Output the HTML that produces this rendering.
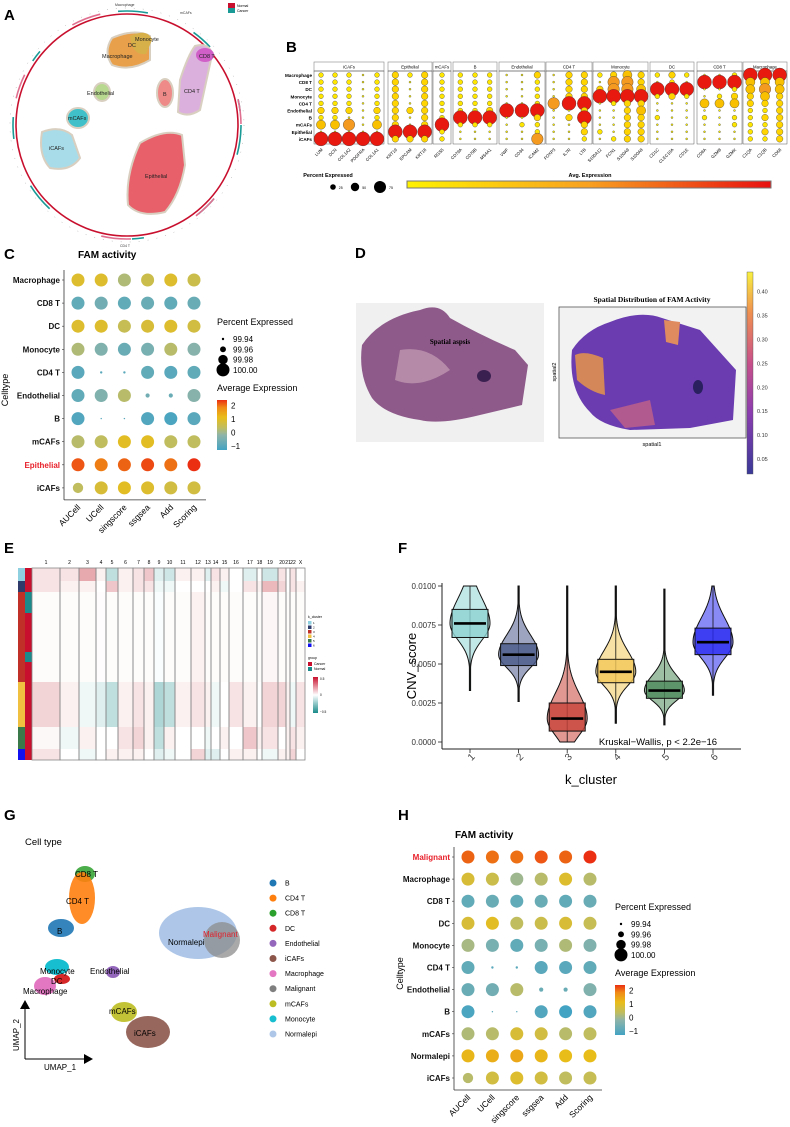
<!DOCTYPE html>
<html><head><meta charset="utf-8"><style>
html,body{margin:0;padding:0;background:#fff;}
svg{display:block;font-family:"Liberation Sans",Arial,sans-serif;}
</style></head><body>
<svg id="fig" width="790" height="1127" viewBox="0 0 790 1127" xmlns="http://www.w3.org/2000/svg">
<rect width="790" height="1127" fill="#fff"/>
<g font-weight="bold" font-size="15">
<text x="4" y="20">A</text>
<text x="286" y="52">B</text>
<text x="4" y="259">C</text>
<text x="355" y="258">D</text>
<text x="4" y="553">E</text>
<text x="398" y="553">F</text>
<text x="4" y="820">G</text>
<text x="398" y="820">H</text>
</g>

<g id="panelA">
<circle cx="127" cy="125" r="111" fill="none" stroke="#c8102e" stroke-width="1.6"/>
<circle cx="127" cy="125" r="114" fill="none" stroke="#1a9a96" stroke-width="1.6" stroke-dasharray="30 50 22 60 12 90"/>
<circle cx="127" cy="125" r="114" fill="none" stroke="#e07090" stroke-width="1.6" stroke-dasharray="0 80 25 70 30 100"/>
<circle cx="127" cy="125" r="117" fill="none" stroke="#999" stroke-width="0.5" stroke-dasharray="1 8"/>
<rect x="228" y="3" width="7" height="5" fill="#c8102e"/>
<rect x="228" y="8" width="7" height="5" fill="#1a9a96"/>
<text x="237" y="7" font-size="3.5">Normal</text>
<text x="237" y="12" font-size="3.5">Cancer</text>
<g font-size="3.5" fill="#333">
<text x="115" y="6">Macrophage</text>
<text x="180" y="14">mCAFs</text>
<text x="120" y="247">CD4 T</text>
</g>
<path d="M112,38 Q135,28 150,36 L150,60 Q130,72 112,65 Q103,52 112,38Z" fill="#e9a04a" stroke="#d9cfc0" stroke-width="2"/>
<path d="M130,36 Q148,28 152,40 L146,54 Q132,56 130,36Z" fill="#d8b04a"/>
<path d="M195,46 Q210,42 212,55 L200,110 Q188,118 178,112 L180,80 Q188,55 195,46Z" fill="#dcb0dc" stroke="#d9cfc0" stroke-width="2"/>
<ellipse cx="205" cy="55" rx="9" ry="7" fill="#d060c8"/>
<ellipse cx="165" cy="93" rx="8" ry="14" fill="#ee8a88" stroke="#d9cfc0" stroke-width="2"/>
<ellipse cx="102" cy="92" rx="8" ry="9" fill="#b8d890" stroke="#d9cfc0" stroke-width="2"/>
<ellipse cx="78" cy="118" rx="11" ry="10" fill="#40c0c8" stroke="#d9cfc0" stroke-width="2"/>
<path d="M42,132 Q60,125 72,135 L80,158 Q70,172 50,168 Q38,155 42,132Z" fill="#a8dce8" stroke="#d9cfc0" stroke-width="2"/>
<path d="M140,143 Q165,128 182,135 L185,165 Q180,195 165,212 Q140,218 128,205 Q125,175 140,143Z" fill="#e8606a" stroke="#d9cfc0" stroke-width="2"/>
<g font-size="5.5" fill="#222">
<text x="102" y="58">Macrophage</text>
<text x="128" y="47">DC</text>
<text x="135" y="41">Monocyte</text>
<text x="199" y="58">CD8 T</text>
<text x="184" y="93">CD4 T</text>
<text x="163" y="96">B</text>
<text x="87" y="95">Endothelial</text>
<text x="68" y="120">mCAFs</text>
<text x="49" y="150">iCAFs</text>
<text x="145" y="178">Epithelial</text>
</g>
</g>

<g id="panelB"></g>
<g id="panelC"></g>
<g id="panelD">
<defs>
<linearGradient id="plasma" x1="0" y1="1" x2="0" y2="0">
<stop offset="0" stop-color="#3a3a98"/><stop offset="0.3" stop-color="#8a3cb0"/><stop offset="0.55" stop-color="#c8508a"/><stop offset="0.8" stop-color="#f09050"/><stop offset="1" stop-color="#f8f040"/>
</linearGradient>
<linearGradient id="bgrad" x1="0" y1="0" x2="1" y2="0">
<stop offset="0" stop-color="#fff200"/><stop offset="0.5" stop-color="#f8a020"/><stop offset="1" stop-color="#e81010"/>
</linearGradient>
<linearGradient id="avggrad" x1="0" y1="1" x2="0" y2="0">
<stop offset="0" stop-color="#43a3c3"/><stop offset="0.3" stop-color="#8fb4a8"/><stop offset="0.45" stop-color="#c0bd5e"/><stop offset="0.65" stop-color="#e8bd1a"/><stop offset="0.85" stop-color="#f08a16"/><stop offset="1" stop-color="#ea2f12"/>
</linearGradient>
<linearGradient id="cnvgrad" x1="0" y1="1" x2="0" y2="0">
<stop offset="0" stop-color="#1a8a8a"/><stop offset="0.5" stop-color="#ffffff"/><stop offset="1" stop-color="#c8102e"/>
</linearGradient>
</defs>
<rect x="356" y="303" width="188" height="139" fill="#f0f0f0"/>
<path d="M362,345 Q380,318 420,310 Q440,302 450,318 Q480,335 515,350 L528,365 L522,405 L480,415 Q440,425 420,420 Q385,415 372,398 Q358,375 362,345Z" fill="#8e5a8a"/>
<path d="M400,350 Q430,345 450,370 Q420,390 395,380Z" fill="#b58aa8"/>
<ellipse cx="484" cy="376" rx="7" ry="6" fill="#3a2050"/>
<text x="450" y="344" font-family="Liberation Serif,serif" font-weight="bold" font-size="7" text-anchor="middle">Spatial aspsis</text>
<rect x="559" y="307" width="187" height="131" fill="#f2f2f2" stroke="#555" stroke-width="0.8"/>
<path d="M572,350 Q585,330 610,322 Q640,310 662,318 L700,330 L736,370 L733,420 L690,428 L630,430 Q600,425 590,412 Q568,390 572,350Z" fill="#6a3cb0"/>
<path d="M575,355 Q585,350 603,358 L605,395 Q590,392 577,380Z" fill="#e09050" opacity="0.9"/>
<path d="M664,320 L680,322 L678,345 L666,342Z" fill="#e08a60"/>
<path d="M610,410 L650,400 L655,425 L625,428Z" fill="#b05a90"/>
<ellipse cx="698" cy="387" rx="5" ry="7" fill="#2a2060"/>
<text x="652" y="302" font-family="Liberation Serif,serif" font-weight="bold" font-size="7.5" text-anchor="middle">Spatial Distribution of FAM Activity</text>
<text x="652" y="446" font-size="5.5" text-anchor="middle">spatial1</text>
<text x="556" y="372" font-size="5.5" text-anchor="middle" transform="rotate(-90 556 372)">spatial2</text>
<rect x="747" y="272" width="6" height="202" fill="url(#plasma)" stroke="#555" stroke-width="0.4"/>
<g id="dcbar" font-size="5.5" fill="#333"></g>
</g>

<g id="panelE"></g>
<g id="panelF"></g>

<g id="panelG">
<text x="25" y="845" font-size="9.5">Cell type</text>
<ellipse cx="85" cy="874" rx="10" ry="8" fill="#2ca02c" opacity="0.85"/>
<ellipse cx="82" cy="898" rx="13" ry="26" fill="#ff7f0e" opacity="0.9"/>
<ellipse cx="61" cy="928" rx="13" ry="9" fill="#1f77b4" opacity="0.9"/>
<ellipse cx="198" cy="933" rx="39" ry="26" fill="#aec7e8"/>
<ellipse cx="222" cy="940" rx="18" ry="18" fill="#8c8c8c" opacity="0.75"/>
<ellipse cx="57" cy="967" rx="12" ry="8" fill="#17becf"/>
<ellipse cx="62" cy="979" rx="8" ry="5" fill="#d62728"/>
<ellipse cx="45" cy="986" rx="11" ry="9" fill="#e377c2"/>
<ellipse cx="113" cy="972" rx="7" ry="6" fill="#9467bd"/>
<ellipse cx="124" cy="1012" rx="13" ry="10" fill="#bcbd22" opacity="0.9"/>
<ellipse cx="148" cy="1032" rx="22" ry="16" fill="#8c564b" opacity="0.9"/>
<g font-size="8">
<text x="75" y="877">CD8 T</text>
<text x="66" y="904">CD4 T</text>
<text x="57" y="934">B</text>
<text x="168" y="945">Normalepi</text>
<text x="203" y="937" fill="#e0202a">Malignant</text>
<text x="40" y="974">Monocyte</text>
<text x="51" y="984">DC</text>
<text x="23" y="994">Macrophage</text>
<text x="90" y="974">Endothelial</text>
<text x="109" y="1014">mCAFs</text>
<text x="134" y="1036">iCAFs</text>
</g>
<line x1="25" y1="1059" x2="25" y2="1008" stroke="#000" stroke-width="1"/>
<line x1="25" y1="1059" x2="86" y2="1059" stroke="#000" stroke-width="1"/>
<polygon points="25,1000 20,1009 30,1009" fill="#000"/>
<polygon points="93,1059 84,1054 84,1064" fill="#000"/>
<text x="44" y="1070" font-size="8">UMAP_1</text>
<text x="19" y="1035" font-size="8" text-anchor="middle" transform="rotate(-90 19 1035)">UMAP_2</text>
<g id="glegend" font-size="7"></g>
</g>

<g id="panelH"></g>
</svg>
<script>
const NS="http://www.w3.org/2000/svg";
function mk(parent,tag,attrs,text){const e=document.createElementNS(NS,tag);for(const k in attrs)e.setAttribute(k,attrs[k]);if(text!==undefined)e.textContent=text;parent.appendChild(e);return e;}

const bGroups=["iCAFs","Epithelial","mCAFs","B","Endothelial","CD4 T","Monocyte","DC","CD8 T","Macrophage"];
const bGenes=[["LUM","DCN","COL1A2","PDGFRA","COL1A1"],["KRT19","EPCAM","KRT18"],["RGS5"],["CD79A","CD79B","MS4A1"],["VWF","CD34","ICAM2"],["FOXP3","IL7R","LTB"],["S100A12","FCN1","S100A9","S100A8"],["CD1C","CLEC10A","CD1E"],["CD8A","GZMB","GZMK"],["C1QA","C1QB","CD68"]];
const bRows=["Macrophage","CD8 T","DC","Monocyte","CD4 T","Endothelial","B","mCAFs","Epithelial","iCAFs"];
const bLevels=[
"11101|212|1|111|002|022|1232|121|001|555",
"11101|202|1|111|001|022|0442|010|555|333",
"11101|202|1|111|001|022|2443|555|001|343",
"11101|202|1|111|001|022|5555|121|012|232",
"11101|202|1|111|001|455|0122|000|333|222",
"22202|222|1|112|555|002|0023|000|000|112",
"11001|202|1|555|002|025|0022|100|101|122",
"33403|202|5|111|011|002|0022|000|001|112",
"00000|555|1|000|001|002|1022|000|000|122",
"55555|222|1|000|004|001|0122|000|000|112"];
const bGroupX=[[314,384],[388,432],[433,451],[453,497],[499,545],[546,592],[593,648],[650,694],[697,742],[743,787]];
(function(){
 const g=document.getElementById('panelB');
 const radius=[1,2.4,3.3,4.6,5.8,7], fills=["#fff200","#ffe600","#ffd400","#f8c000","#f59a20","#e81a10"];
 const rowY=i=>75+i*7.1;
 bRows.forEach((r,i)=>{const t=mk(g,'text',{x:312,y:rowY(i)+2,'font-size':4.6,'font-weight':'bold','text-anchor':'end'},r);
  });
 bGroups.forEach((gr,gi)=>{
  const [x0,x1]=bGroupX[gi];
  const box=mk(g,'rect',{x:x0,y:62,width:x1-x0,height:9,fill:'#fff',stroke:'#888','stroke-width':0.6});
  
  const t=mk(g,'text',{x:(x0+x1)/2,y:68.5,'font-size':4.3,'text-anchor':'middle'},gr);
  
  const fr=mk(g,'rect',{x:x0,y:71,width:x1-x0,height:73,fill:'none',stroke:'#333','stroke-width':0.4});
  
  const n=bGenes[gi].length, step=(x1-x0)/n;
  bGenes[gi].forEach((gene,k)=>{
   const x=x0+step*(k+0.5);
   const gl=mk(g,'text',{x:x+2,y:150,'font-size':4.3,'text-anchor':'end',transform:`rotate(-45 ${x+2} 150)`},gene);
   
   bRows.forEach((r,i)=>{
    const lv=+bLevels[i].split('|')[gi][k];
    const c=mk(g,'circle',{cx:x,cy:rowY(i),r:radius[lv],fill:fills[lv],stroke:'#333','stroke-width':0.35});
    
   });
  });
 });
 const t1=mk(g,'text',{x:328,y:177,'font-size':5.5,'font-weight':'bold','text-anchor':'middle'},'Percent Expressed');
 
 [[333,2.8,'25'],[355,4.2,'50'],[380,6,'75']].forEach(([x,r,l])=>{
  const c=mk(g,'circle',{cx:x,cy:187,r:r,fill:'#000'});
  const t=mk(g,'text',{x:x+r+3,y:189,'font-size':3.5},l);
 });
 const t2=mk(g,'text',{x:590,y:177,'font-size':5.5,'font-weight':'bold','text-anchor':'middle'},'Avg. Expression');
 
 const bar=mk(g,'rect',{x:407,y:181,width:364,height:7,fill:'url(#bgrad)',stroke:'#777','stroke-width':1});
 
})();

const methods=["AUCell","UCell","singscore","ssgsea","Add","Scoring"];
const cRows=["Macrophage","CD8 T","DC","Monocyte","CD4 T","Endothelial","B","mCAFs","Epithelial","iCAFs"];
const cExpr=[[0.8,0.8,0.1,0.5,0.8,0.5],[-0.9,-0.7,-0.9,-0.8,-0.9,-0.8],[0.8,0.8,0.4,0.7,0.8,0.6],[0.1,-0.5,-0.8,-0.6,0.2,-0.4],[-1,-1,-1,-0.9,-1,-0.9],[-0.9,-0.5,0.2,-0.7,-0.8,-0.4],[-1.1,-1,-1,-1.1,-1.2,-1],[0.2,0.3,0.9,0.9,0.3,0.3],[2.1,1.8,2.0,2.2,1.9,2.4],[0.3,0.7,0.9,0.8,0.6,0.6]];
const cPct=[[100,100,100,100,100,100],[100,100,100,100,100,100],[100,100,100,100,100,100],[100,100,100,100,100,100],[100,99.94,99.94,100,100,100],[100,100,100,99.95,99.95,100],[100,99.93,99.93,100,100,100],[100,100,100,100,100,100],[100,100,100,100,100,100],[99.985,100,100,100,100,100]];
const hRows=["Malignant","Macrophage","CD8 T","DC","Monocyte","CD4 T","Endothelial","B","mCAFs","Normalepi","iCAFs"];
const hExpr=[[2.0,1.9,1.9,2.1,2.0,2.4],[0.7,0.5,-0.1,0.2,0.8,0.2],[-0.9,-0.8,-0.9,-0.8,-0.9,-0.8],[0.7,0.9,0.3,0.5,0.7,0.4],[0.0,-0.6,-0.9,-0.6,0.1,-0.5],[-0.9,-1,-1,-1,-1,-0.9],[-0.8,-0.7,0.2,-0.8,-0.8,-0.5],[-1.2,-1,-1,-1.1,-1.3,-1.1],[0.1,0.2,0.7,0.6,0.2,0.3],[1.1,1.2,1.3,1.1,1.0,1.0],[0.2,0.6,0.8,0.6,0.3,0.4]];
const hPct=[[100,100,100,100,100,100],[100,100,100,100,100,100],[100,100,100,100,100,100],[100,100,100,100,100,100],[100,100,100,100,100,100],[100,99.94,99.94,100,100,100],[100,100,100,99.95,99.95,100],[100,99.93,99.93,100,100,100],[100,100,100,100,100,100],[100,100,100,100,100,100],[99.985,100,100,100,100,100]];
const sizeTicks=["99.94","99.96","99.98","100.00"];
const colorTicks=[2,1,0,-1];

const cstops=[[-1.3,[67,163,195]],[-0.3,[143,180,168]],[0.3,[192,189,94]],[1,[232,189,26]],[1.7,[240,138,22]],[2.4,[234,47,18]]];
function colorOf(v){v=Math.max(-1.3,Math.min(2.4,v));for(let i=0;i<cstops.length-1;i++){const[a,ca]=cstops[i],[b,cb]=cstops[i+1];if(v<=b){const t=(v-a)/(b-a);return'rgb('+ca.map((c,j)=>Math.round(c+(cb[j]-c)*t)).join(',')+')';}}return'rgb(234,47,18)';}
function sizeOf(p){if(p<99.935)return 0.7;const t=(p-99.94)/0.06;return Math.max(1.2,1.2+t*5.3);}

function dotplot(gid,rows,expr,pct,o){
 const g=document.getElementById(gid);
 const yOf=i=>o.y0+i*o.dy, xOf=j=>o.x0+j*o.dx;
 const title=mk(g,'text',{x:o.titleX,y:o.titleY,'font-size':10,'font-weight':'bold'},'FAM activity');
 
 const yb=yOf(rows.length-1)+12, xl=o.axisX, xr=xOf(methods.length-1)+12;
 const ax1=mk(g,'line',{x1:xl,y1:yOf(0)-10,x2:xl,y2:yb,stroke:'#333','stroke-width':0.8});
 
 const ax2=mk(g,'line',{x1:xl,y1:yb,x2:xr,y2:yb,stroke:'#333','stroke-width':0.8});
 
 rows.forEach((r,i)=>{
  const t=mk(g,'text',{x:xl-4,y:yOf(i)+3,'font-size':8,'font-weight':'bold','text-anchor':'end',fill:(r===o.hl?'#e8202a':'#111')},r);
  
  const tk=mk(g,'line',{x1:xl-2,y1:yOf(i),x2:xl,y2:yOf(i),stroke:'#333','stroke-width':0.6});
  
  methods.forEach((m,j)=>{
   const c=mk(g,'circle',{cx:xOf(j),cy:yOf(i),r:sizeOf(pct[i][j]),fill:colorOf(expr[i][j])});
   
  });
 });
 methods.forEach((m,j)=>{
  const x=xOf(j)+3,y=yb+8;
  const t=mk(g,'text',{x:x,y:y,'font-size':8.5,'text-anchor':'end',transform:`rotate(-45 ${x} ${y})`},m);
  
 });
 const yt=mk(g,'text',{x:o.ylabX,y:(yOf(0)+yb)/2,'font-size':9,'text-anchor':'middle',transform:`rotate(-90 ${o.ylabX} ${(yOf(0)+yb)/2})`},'Celltype');
 
 const lx=o.legX, ly=o.legY;
 const pt=mk(g,'text',{x:lx,y:ly,'font-size':9},'Percent Expressed');
 
 sizeTicks.forEach((s,k)=>{
  const c=mk(g,'circle',{cx:lx+6,cy:ly+14+k*10.3,r:sizeOf(+s),fill:'#000'});
  
  const t=mk(g,'text',{x:lx+16,y:ly+17+k*10.3,'font-size':8},s);
  
 });
 const at=mk(g,'text',{x:lx,y:ly+66,'font-size':9},'Average Expression');
 
 const cb=mk(g,'rect',{x:lx,y:ly+75,width:10,height:50,fill:'url(#avggrad)'});
 
 const cy=v=>ly+125-(v+1.3)/3.7*50;
 colorTicks.forEach(v=>{
  const t=mk(g,'text',{x:lx+14,y:cy(v)+3,'font-size':8},v<0?'\u2212'+Math.abs(v):String(v));
  
 });
}
dotplot('panelC',cRows,cExpr,cPct,{x0:78,dx:23.2,y0:280,dy:23.1,axisX:64,titleX:78,titleY:258,ylabX:8,legX:217,legY:325,hl:'Epithelial'});
dotplot('panelH',hRows,hExpr,hPct,{x0:468,dx:24.4,y0:857,dy:22.1,axisX:454,titleX:455,titleY:838,ylabX:403,legX:615,legY:910,hl:'Malignant'});

const dTicks=[0.05,0.10,0.15,0.20,0.25,0.30,0.35,0.40];
(function(){const g=document.getElementById('dcbar');dTicks.forEach(v=>{const y=459-(v-0.05)/0.05*23.9;
 const t=mk(g,'text',{x:757,y:y+2},v.toFixed(2));});})();

const chroms=["1","2","3","4","5","6","7","8","9","10","11","12","13","14","15","16","17","18","19","20","21","22","X"];
const chromBounds=[32,60,79,96,106,118,133,144,154,164,175,191,205,211,220,229,243,257,262,278,286,290,296,305];
const kClusters=["1","2","3","4","5","6"];
const kColors=["#8ecfe0","#2e3a6a","#c03028","#f0c040","#3a7a4a","#1010f0"];
const kBands=[[568,581],[581,592],[592,682],[682,727],[727,749],[749,760]];
const groupBands=[[568,592,"Cancer"],[592,613,"Normal"],[613,652,"Cancer"],[652,662,"Normal"],[662,760,"Cancer"]];
const cnv=[
[0.2,0.2,0.6,0.1,-0.4,0.1,0.2,0.4,-0.2,-0.3,0.1,0.1,-0.2,0.2,0.1,0,-0.2,0,-0.3,0.2,0,0.2,0],
[0.2,0.1,0.1,0,0.4,0.1,0.2,0.2,-0.1,-0.1,0,0,0,0.1,-0.1,0,0.2,0.1,0.5,0.3,0,0.2,0.1],
[0.03,0.03,0.03,0.02,0.03,0.03,0.03,0.03,-0.03,0.03,0.03,0.1,0.03,0.03,0.03,0.03,0.03,0.03,0.06,0.03,0.03,0.03,0.03],
[0.3,0.1,-0.1,-0.2,-0.4,0.1,0.2,0.1,-0.5,-0.4,0.1,0.2,0.1,-0.1,0,0.2,0.1,0,0.3,0.3,0.1,-0.1,0.2],
[0.05,-0.1,0.1,0,0,0.2,0.3,0.1,-0.4,0.1,0,0,-0.1,0,0.1,0,0.4,0.1,0.2,0,0.1,0.2,0.1],
[0.2,0,-0.1,0,0.1,0.1,0.1,0,-0.2,-0.1,0,0.3,-0.2,-0.2,0,0.1,0.1,0,-0.1,0.1,0.1,0.3,0]];
function cnvColor(v){const t=Math.max(-1,Math.min(1,v/1.4));if(t>=0){return`rgb(${255-Math.round(55*t)},${255-Math.round(200*t)},${255-Math.round(190*t)})`;}const s=-t;return`rgb(${255-Math.round(225*s)},${255-Math.round(115*s)},${255-Math.round(115*s)})`;}
(function(){
 const g=document.getElementById('panelE');
 kBands.forEach(([y0,y1],i)=>{
  const r=mk(g,'rect',{x:18,y:y0,width:7,height:y1-y0,fill:kColors[i]});
  chroms.forEach((c,j)=>{
   const x0=chromBounds[j],x1=chromBounds[j+1];
   const cell=mk(g,'rect',{x:x0,y:y0,width:x1-x0,height:y1-y0,fill:cnvColor(cnv[i][j])});
   
  });
 });
 groupBands.forEach(([y0,y1,gname])=>{const r=mk(g,'rect',{x:25,y:y0,width:7,height:y1-y0,fill:gname==='Cancer'?'#c8102e':'#1a8a8a'});});
 chroms.forEach((c,j)=>{
  const x0=chromBounds[j],x1=chromBounds[j+1];
  const f=mk(g,'rect',{x:x0,y:568,width:x1-x0,height:192,fill:'none',stroke:'#888','stroke-width':0.8});
  const t=mk(g,'text',{x:(x0+x1)/2,y:564,'font-size':5,'text-anchor':'middle'},c);
 });
 const t=mk(g,'text',{x:308,y:618,'font-size':3.5},'k_cluster');
 kClusters.forEach((k,i)=>{const r=mk(g,'rect',{x:308,y:621+i*4.5,width:3.5,height:3.5,fill:kColors[i]});
  const l=mk(g,'text',{x:313,y:624+i*4.5,'font-size':3},k);});
 const gt=mk(g,'text',{x:308,y:659,'font-size':3.5},'group');
 [['Cancer','#c8102e'],['Normal','#1a8a8a']].forEach(([n,c],i)=>{const r=mk(g,'rect',{x:308,y:662+i*5,width:4,height:4,fill:c});
  const l=mk(g,'text',{x:314,y:665+i*5,'font-size':3.5},n);});
 const cb=mk(g,'rect',{x:313,y:677,width:5,height:36,fill:'url(#cnvgrad)'});
 [['0.5',680],['0',696],['\u22120.5',713]].forEach(([s,y])=>{const l=mk(g,'text',{x:320,y:y,'font-size':3.2},s);});
})();

const fClusters=["1","2","3","4","5","6"];
const fColors=["#8fd3d3","#4a5a8a","#c8433a","#f2c85a","#4e8a5a","#2a2af0"];
const fQ1=[0.0067,0.0049,0.0007,0.0038,0.0028,0.0056];
const fMed=[0.0076,0.0056,0.0015,0.0045,0.0033,0.0064];
const fQ3=[0.0085,0.0063,0.0025,0.0053,0.0039,0.0073];
const fMin=[0.0033,0.0026,0.0000,0.0012,0.0011,0.0030];
const fMax=[0.0100,0.0100,0.0100,0.0100,0.0098,0.0100];
const fTicks=[0,0.0025,0.005,0.0075,0.01];
(function(){
 const g=document.getElementById('panelF');
 const yS=v=>742-v/0.01*156, xS=i=>470+i*48.6;
 const ax=mk(g,'line',{x1:442,y1:583,x2:442,y2:749,stroke:'#222','stroke-width':1});
 const bx=mk(g,'line',{x1:442,y1:749,x2:741,y2:749,stroke:'#222','stroke-width':1});
 fTicks.forEach(v=>{const y=yS(v);const tk=mk(g,'line',{x1:438,y1:y,x2:442,y2:y,stroke:'#222','stroke-width':0.8});
  const t=mk(g,'text',{x:436,y:y+3,'font-size':8,'text-anchor':'end',fill:'#333'},v.toFixed(4));});
 fClusters.forEach((c,i)=>{
  const x=xS(i), sd=(fQ3[i]-fQ1[i])/1.35;
  const n=60, pts=[], W=20;
  for(let k=0;k<=n;k++){const v=fMin[i]+(fMax[i]-fMin[i])*k/n;const z=(v-fMed[i])/sd;const w=Math.max(0.6,W*Math.exp(-0.5*z*z*(z<0?1.6:0.7)));pts.push([v,w]);}
  let d='M'+x+','+yS(fMin[i]);
  pts.forEach(([v,w])=>{d+=' L'+(x+w)+','+yS(v);});
  for(let k=pts.length-1;k>=0;k--){d+=' L'+(x-pts[k][1])+','+yS(pts[k][0]);}
  d+='Z';
  const vp=mk(g,'path',{d:d,fill:fColors[i],'fill-opacity':0.55,stroke:'#111','stroke-width':1});
  const ln=mk(g,'line',{x1:x,y1:yS(fMin[i]),x2:x,y2:yS(fMax[i]),stroke:'#111','stroke-width':0.8});
  const bb=mk(g,'rect',{x:x-18,y:yS(fQ3[i]),width:36,height:yS(fQ1[i])-yS(fQ3[i]),fill:fColors[i],'fill-opacity':0.8,stroke:'#111','stroke-width':1});
  const md=mk(g,'line',{x1:x-16,y1:yS(fMed[i]),x2:x+16,y2:yS(fMed[i]),stroke:'#000','stroke-width':2.6});
  const tk=mk(g,'line',{x1:x,y1:749,x2:x,y2:753,stroke:'#222','stroke-width':0.8});
  const t=mk(g,'text',{x:x+3,y:762,'font-size':10,'text-anchor':'middle',fill:'#444',transform:`rotate(-45 ${x} 760)`},c);
 });
 const kw=mk(g,'text',{x:658,y:745,'font-size':9.5,'text-anchor':'middle'},'Kruskal\u2212Wallis, p < 2.2e\u221216');
 const xt=mk(g,'text',{x:591,y:784,'font-size':13,'text-anchor':'middle'},'k_cluster');
 const yt=mk(g,'text',{x:416,y:666,'font-size':13,'text-anchor':'middle',transform:'rotate(-90 416 666)'},'CNV_score');
})();

const gTypes=["B","CD4 T","CD8 T","DC","Endothelial","iCAFs","Macrophage","Malignant","mCAFs","Monocyte","Normalepi"];
const gColors=["#1f77b4","#ff7f0e","#2ca02c","#d62728","#9467bd","#8c564b","#e377c2","#7f7f7f","#bcbd22","#17becf","#aec7e8"];
(function(){const g=document.getElementById('glegend');gTypes.forEach((t,i)=>{const y=883+i*15.1;
 const c=mk(g,'circle',{cx:273,cy:y,r:3.5,fill:gColors[i]});
 const l=mk(g,'text',{x:285,y:y+2.5},t);});})();
</script>
</body></html>
